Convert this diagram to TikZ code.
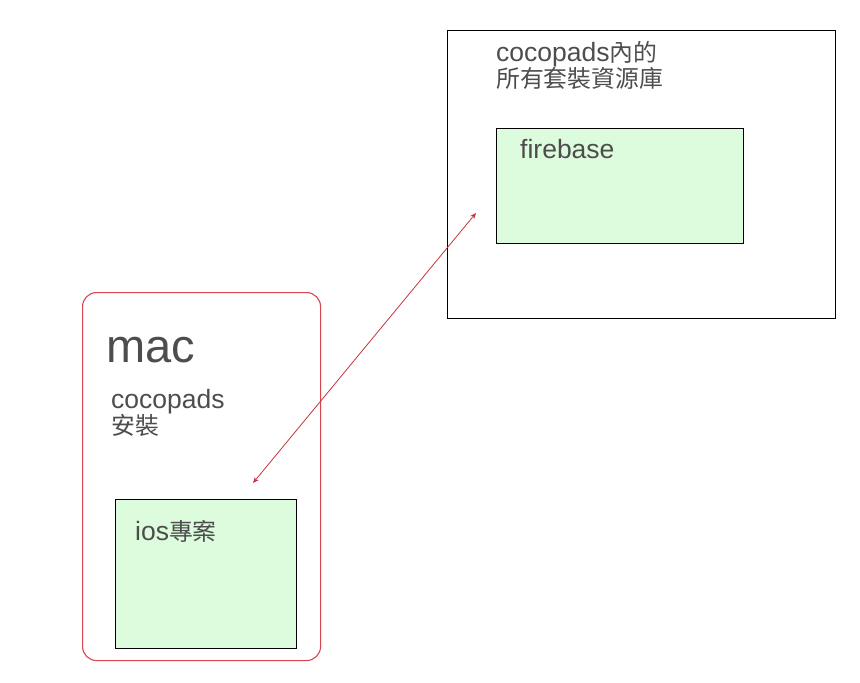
\documentclass[tikz,border=0pt]{standalone}
\usepackage{fontspec}
\usetikzlibrary{arrows.meta}
\setmainfont{Liberation Sans}
\newfontfamily\cjk[Scale=0.9]{Noto Sans CJK TC}
\definecolor{txtgray}{RGB}{77,77,77}
\definecolor{boxgreen}{RGB}{221,252,221}
\definecolor{macred}{RGB}{214,72,80}
\definecolor{arrred}{RGB}{200,50,60}

\begin{document}
\begin{tikzpicture}[x=1pt,y=-1pt,
  lbl/.style={anchor=base west,inner sep=0pt,text=txtgray,align=left,font=\fontsize{26.5}{26}\selectfont},
  greenbox/.style={draw=black,line width=1pt,fill=boxgreen,anchor=north west,inner sep=0pt}]
  \useasboundingbox (0,0) rectangle (860,683);

  % boxes
  \node[draw=black,line width=1.3pt,anchor=north west,inner sep=0pt,minimum width=388pt,minimum height=288pt] (repo) at (447,30) {};
  \node[greenbox,minimum width=247pt,minimum height=115pt] (fire) at (496,128) {};
  \node[draw=macred,line width=1.1pt,rounded corners=14pt,anchor=north west,inner sep=0pt,minimum width=238pt,minimum height=368pt] (mac) at (82,292) {};
  \node[greenbox,minimum width=181pt,minimum height=149pt] (ios) at (115,499) {};

  % labels (base = last line)
  \node[lbl] (repotxt) at (496,87) {cocopads{\cjk 內的}\\{\cjk 所有套裝資源庫}};
  \node[lbl] (firetxt) at (520,158) {firebase};
  \node[lbl,font=\fontsize{47}{47}\selectfont] (mactxt) at (106,362) {mac};
  \node[lbl] (podtxt) at (111,434) {cocopads\\{\cjk 安裝}};
  \node[lbl] (iostxt) at (135,540) {ios{\cjk 專案}};

  % arrow
  \coordinate (p1) at (253,483);
  \coordinate (p2) at (476,213);
  \draw[arrred,line width=0.8pt,{Stealth[length=6pt,width=5pt]}-{Stealth[length=6pt,width=5pt]}] (p1) -- (p2);
\end{tikzpicture}
\end{document}
